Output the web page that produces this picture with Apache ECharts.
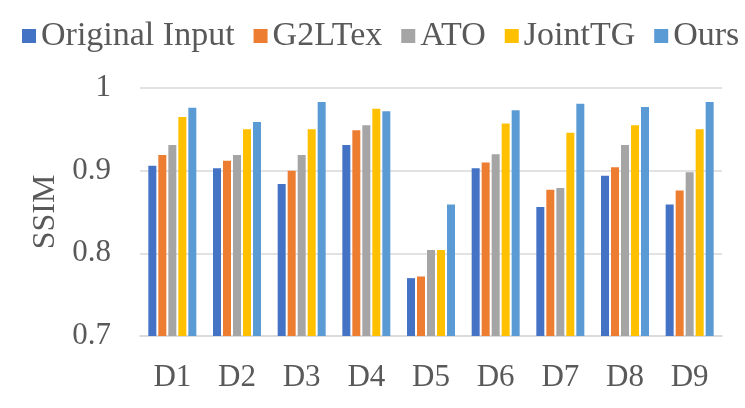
<!DOCTYPE html>
<html>
<head>
<meta charset="utf-8">
<script src="https://cdn.jsdelivr.net/npm/echarts@6/dist/echarts.min.js"></script>
<style>
    html, body { margin: 0; padding: 0; background: #fff; }
    #chart { width: 745px; height: 408px; }
</style>
</head>
<body>
<div id="chart"></div>
<script>
var categories = ['D1', 'D2', 'D3', 'D4', 'D5', 'D6', 'D7', 'D8', 'D9'];
var seriesNames = ['Original Input', 'G2LTex', 'ATO', 'JointTG', 'Ours'];
var originalInput = [0.906, 0.903, 0.884, 0.931, 0.770, 0.903, 0.856, 0.894, 0.859];
var g2ltex        = [0.919, 0.912, 0.900, 0.949, 0.772, 0.910, 0.877, 0.904, 0.876];
var ato           = [0.931, 0.919, 0.919, 0.955, 0.804, 0.920, 0.879, 0.931, 0.898];
var jointTG       = [0.965, 0.950, 0.950, 0.975, 0.804, 0.957, 0.946, 0.955, 0.950];
var ours          = [0.976, 0.959, 0.983, 0.972, 0.859, 0.973, 0.981, 0.977, 0.983];
var yTicks = [0.7, 0.8, 0.9, 1];

var colors = ['#4472C4', '#ED7D31', '#A5A5A5', '#FFC000', '#5B9BD5'];
var values = [originalInput, g2ltex, ato, jointTG, ours];
var font = '"Liberation Serif", "Times New Roman", serif';

var initChart = function () {
    var chart = echarts.init(document.getElementById('chart'));
    var series = [];
    for (var i = 0; i < seriesNames.length; i++) {
        series.push({
            name: seriesNames[i],
            type: 'bar',
            barWidth: 8,
            barGap: '25%',
            itemStyle: { color: colors[i] },
            data: values[i]
        });
    }
    var option = {
        animation: false,
        color: colors,
        legend: {
            data: seriesNames,
            left: 17,
            top: 14,
            itemWidth: 14,
            itemHeight: 14,
            itemGap: 19,
            icon: 'rect',
            textStyle: {
                fontFamily: font,
                fontSize: 34,
                color: '#595959',
                padding: [0, 0, 0, 0]
            }
        },
        grid: {
            left: 140,
            right: 23,
            top: 88,
            bottom: 72
        },
        xAxis: {
            type: 'category',
            data: categories,
            axisTick: { show: false },
            axisLine: { lineStyle: { color: '#d9d9d9', width: 1.5 } },
            axisLabel: {
                fontFamily: font,
                fontSize: 31,
                color: '#595959',
                margin: 26
            }
        },
        yAxis: {
            type: 'value',
            min: yTicks[0],
            max: yTicks[yTicks.length - 1],
            interval: 0.1,
            name: 'SSIM',
            nameLocation: 'middle',
            nameGap: 78,
            nameTextStyle: {
                fontFamily: font,
                fontSize: 32,
                color: '#595959'
            },
            axisLine: { show: false },
            axisTick: { show: false },
            splitLine: { lineStyle: { color: '#d9d9d9', width: 1.5 } },
            axisLabel: {
                fontFamily: font,
                fontSize: 31,
                color: '#595959',
                margin: 29,
                padding: [4, 0, 0, 0],
                formatter: function (v) {
                    return String(Math.round(v * 10) / 10);
                }
            }
        },
        series: series
    };
    chart.setOption(option);
};

initChart();
</script>
</body>
</html>
